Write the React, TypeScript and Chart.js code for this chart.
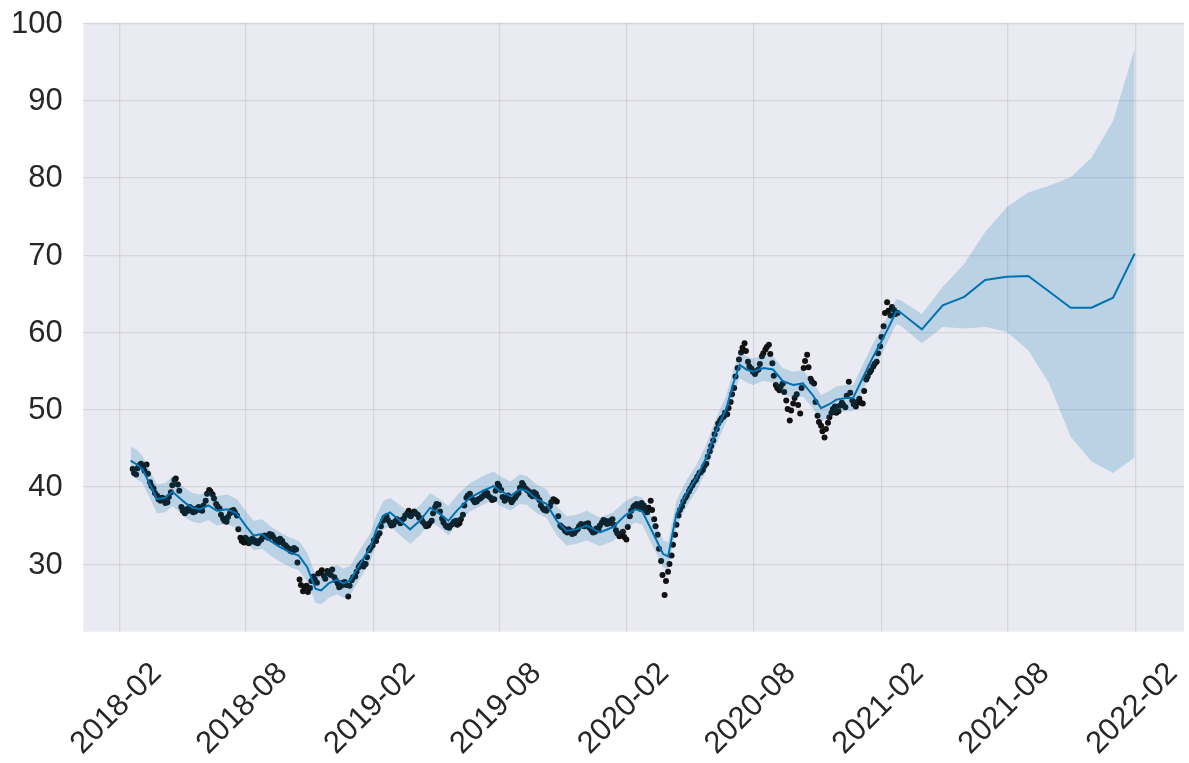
import React, { useEffect, useRef } from "react";
import { Chart, registerables } from "chart.js";

Chart.register(...registerables);

// X tick labels (month starts)
const tickLabels = ["2018-02", "2018-08", "2019-02", "2019-08", "2020-02", "2020-08", "2021-02", "2021-08", "2022-02"];
// Y tick values
const yTicks = [30, 40, 50, 60, 70, 80, 90, 100];

// Observations, series A: one value every 5 days starting at obsStartA
const obsStartA = "2018-02-20";
const obsStepDays = 5;
const observedA = [
  42.3, 41.6, 42.8, 42.6, 42.9, 40.6, 39.8, 38.9, 38.2, 38.5,
  38.0, 39.3, 40.9, 40.3, 37.4, 36.6, 36.9, 37.2, 36.8, 37.4,
  36.9, 38.2, 39.6, 39.0, 37.8, 37.2, 35.9, 35.5, 36.6, 37.0,
  36.3, 33.4, 32.8, 33.2, 32.9, 33.1, 32.7, 33.2, 33.7, 33.4,
  33.8, 33.2, 32.8, 33.0, 32.4, 32.0, 31.6, 31.9, 28.0, 26.5,
  27.2, 26.9, 28.4, 27.6, 28.9, 28.5, 29.1, 28.6, 28.3, 27.5,
  27.2, 27.7, 25.8, 27.9, 28.4, 29.6, 30.2, 30.0, 31.8, 32.4,
  33.0, 34.0, 35.6, 36.2, 35.4, 35.1, 35.8, 35.3, 35.9, 36.6,
  36.2, 36.8, 36.4, 35.9, 35.2, 35.0, 35.6, 37.4, 37.7, 35.9,
  35.0, 34.7, 35.2, 35.6, 35.3, 36.4, 38.6, 39.1, 38.3, 38.1,
  38.5, 38.9, 39.2, 38.6, 38.4, 40.4, 39.6, 38.2, 38.9, 38.0,
  38.6, 39.2, 40.5, 39.8, 39.4, 38.8, 39.1, 38.3, 37.2, 36.9,
  37.5, 38.4, 38.1, 35.0, 34.6, 34.1, 34.3, 34.0, 34.5, 35.2,
  34.9, 35.3, 34.4, 34.2, 34.5, 35.4, 35.6, 35.3, 35.8, 34.4,
  33.6, 34.2, 33.2, 36.2, 37.4, 37.8, 37.2, 37.6, 36.7, 38.2,
  35.8, 33.8, 30.4, 26.0, 29.0, 31.1, 33.8, 36.3, 37.5, 38.6,
  39.4, 40.2, 40.9, 41.8, 42.2, 43.0, 44.6, 46.0, 47.5, 48.6,
  49.1, 49.4, 51.0, 52.8, 55.4, 57.4, 58.6, 56.2, 55.3, 54.6,
  55.2, 56.9, 57.8, 58.4, 56.0, 53.2, 52.5, 53.4, 51.2, 48.6,
  50.8, 52.0, 49.5, 55.4, 57.1, 54.0, 53.4, 49.2, 47.9, 46.4,
  48.3, 49.6, 50.4, 49.8, 50.9, 50.3, 53.6, 51.2, 50.4, 51.4,
  50.8, 53.9, 54.8, 55.6, 56.2, 58.2, 60.8, 63.9, 62.2, 62.9,
  62.5,
];

// Observations, series B: one value every 5 days starting at obsStartB
const obsStartB = "2018-02-22";
const observedB = [
  41.8, 42.4, 43.0, 42.1, 41.7, 40.1, 39.2, 38.4, 38.6, 37.9,
  38.7, 40.2, 41.1, 39.5, 36.9, 37.1, 37.4, 36.7, 37.2, 37.0,
  37.6, 39.1, 39.4, 38.5, 37.5, 36.4, 35.6, 36.1, 36.9, 36.7,
  34.5, 33.0, 33.4, 32.7, 33.3, 32.8, 33.0, 33.5, 33.6, 33.9,
  33.5, 32.9, 33.3, 32.6, 32.2, 31.7, 32.1, 30.2, 27.3, 27.0,
  26.4, 27.8, 28.0, 28.8, 29.2, 28.1, 28.8, 29.3, 27.9, 27.0,
  27.6, 27.3, 27.2, 28.3, 29.0, 29.9, 29.7, 30.9, 32.1, 33.1,
  33.6, 34.9, 36.0, 35.7, 35.0, 35.5, 35.6, 35.7, 36.3, 36.9,
  36.5, 36.6, 36.0, 35.5, 34.9, 35.3, 36.6, 37.8, 36.8, 35.4,
  34.8, 35.0, 35.5, 35.1, 35.8, 37.6, 38.9, 38.6, 38.0, 38.4,
  38.7, 39.3, 38.8, 38.3, 39.5, 40.1, 38.7, 38.6, 38.4, 38.3,
  38.9, 39.9, 40.2, 39.6, 39.0, 39.3, 38.7, 37.6, 37.0, 37.2,
  38.0, 38.3, 36.2, 34.8, 34.3, 34.5, 33.9, 34.3, 34.9, 35.0,
  35.2, 34.7, 34.1, 34.6, 35.0, 35.7, 35.2, 35.6, 35.1, 34.0,
  33.9, 33.5, 34.8, 36.9, 37.6, 37.4, 37.9, 37.0, 37.3, 37.0,
  34.9, 32.0, 28.6, 27.8, 30.0, 32.5, 35.1, 37.0, 38.1, 38.9,
  39.8, 40.6, 41.3, 41.9, 42.7, 43.9, 45.3, 46.8, 48.2, 48.9,
  49.6, 50.2, 52.0, 54.3, 56.5, 58.0, 57.6, 55.6, 54.9, 55.0,
  55.9, 57.3, 58.1, 57.2, 54.4, 52.8, 53.0, 52.3, 50.1, 49.9,
  51.5, 50.6, 52.8, 56.3, 55.5, 53.6, 51.0, 48.4, 47.2, 47.5,
  49.0, 50.1, 49.6, 50.5, 50.6, 51.8, 52.2, 50.7, 51.0, 50.9,
  52.4, 54.3, 55.1, 55.9, 57.3, 59.4, 62.5, 62.8, 63.3, 62.4,
];

// Fitted history: days after 2018-02-01
const histDays = [
  16, 25, 33, 44, 54, 66, 76, 86, 95, 105,
  116, 128, 140, 155, 169, 183, 193, 205, 217, 231,
  246, 258, 270, 282, 290, 301, 313, 322, 332, 346,
  361, 370, 380, 389, 404, 418, 432, 447, 461, 473,
  485, 504, 523, 538, 547, 562, 576, 586, 600, 614,
  629, 643, 657, 672, 691, 710, 727, 742, 752, 768,
  782, 789, 801, 815, 830, 844, 858, 873, 882, 892,
  902, 911, 926, 940, 954, 969, 983, 997, 1009, 1021,
  1031, 1045, 1055, 1069, 1083, 1098, 1108, 1117,
];
const histYhat = [
  43.4, 42.9, 42.3, 40.3, 38.4, 38.6, 39.4, 38.6, 37.9, 37.3,
  37.1, 37.6, 36.9, 37.1, 36.5, 34.8, 33.7, 33.9, 33.0, 32.2,
  31.5, 31.1, 29.6, 26.8, 26.6, 27.5, 28.0, 27.5, 27.9, 30.0,
  32.2, 34.6, 36.3, 36.7, 35.6, 34.5, 35.6, 37.3, 36.5, 35.6,
  36.9, 38.6, 39.5, 40.1, 39.5, 38.8, 39.7, 39.5, 38.4, 37.8,
  35.6, 34.3, 34.5, 35.0, 34.1, 34.8, 36.3, 37.1, 36.8, 33.9,
  31.3, 31.0, 36.5, 39.1, 41.2, 43.8, 47.2, 50.2, 53.2, 55.8,
  55.2, 54.9, 55.4, 55.2, 53.7, 53.2, 53.4, 51.9, 50.2, 50.7,
  51.3, 51.5, 51.5, 54.1, 56.7, 59.2, 61.0, 62.7,
];
const histUpper = [
  45.2, 44.8, 44.0, 42.1, 40.3, 40.5, 41.3, 40.4, 39.8, 39.2,
  39.0, 39.5, 38.8, 39.0, 38.4, 36.7, 35.6, 35.8, 34.9, 34.1,
  33.4, 33.0, 31.5, 28.6, 28.5, 29.4, 29.9, 29.4, 29.8, 31.9,
  34.0, 36.5, 38.2, 38.6, 37.6, 36.5, 37.6, 39.2, 38.4, 37.5,
  38.9, 40.5, 41.4, 42.0, 41.4, 40.7, 41.6, 41.4, 40.3, 39.7,
  37.5, 36.2, 36.4, 36.9, 36.0, 36.7, 38.1, 38.9, 38.6, 35.7,
  33.1, 32.8, 38.2, 40.8, 42.9, 45.5, 48.9, 51.9, 54.9, 57.5,
  56.9, 56.6, 57.1, 56.9, 55.4, 54.9, 55.1, 53.6, 51.9, 52.4,
  53.0, 53.2, 53.2, 55.8, 58.4, 60.9, 62.7, 64.3,
];
const histLower = [
  41.6, 41.0, 40.5, 38.5, 36.6, 36.7, 37.5, 36.8, 36.0, 35.5,
  35.3, 35.7, 35.0, 35.2, 34.6, 32.9, 31.8, 32.0, 31.1, 30.3,
  29.6, 29.2, 27.7, 25.0, 24.8, 25.6, 26.1, 25.6, 26.0, 28.1,
  30.4, 32.8, 34.5, 34.9, 33.7, 32.6, 33.7, 35.5, 34.7, 33.7,
  35.1, 36.8, 37.7, 38.3, 37.6, 36.9, 37.8, 37.7, 36.6, 36.0,
  33.7, 32.4, 32.6, 33.1, 32.3, 33.0, 34.5, 35.4, 35.1, 32.1,
  29.6, 29.2, 34.8, 37.4, 39.5, 42.1, 45.5, 48.5, 51.5, 54.1,
  53.5, 53.2, 53.7, 53.5, 52.0, 51.5, 51.7, 50.2, 48.5, 49.0,
  49.6, 49.8, 49.8, 52.4, 55.0, 57.5, 59.3, 61.1,
];

// Monthly forecast
const futureDates = [
  "2021-02-28", "2021-03-31", "2021-04-30", "2021-05-31", "2021-06-30", "2021-07-31",
  "2021-08-31", "2021-09-30", "2021-10-31", "2021-11-30", "2021-12-31", "2022-01-31",
];
const futureYhat = [62.6, 60.4, 63.5, 64.6, 66.8, 67.2, 67.3, 65.3, 63.2, 63.2, 64.5, 70.2];
const futureUpper = [64.2, 62.4, 65.9, 68.9, 73.0, 76.2, 78.1, 79.0, 80.1, 82.6, 87.4, 96.7];
const futureLower = [60.9, 58.6, 60.7, 60.5, 60.7, 60.1, 57.7, 53.4, 46.5, 43.3, 41.8, 43.8];

const ORIGIN = Date.UTC(2018, 1, 1);
const DAY = 86400000;
function dayOf(s: string): number {
  const parts = s.split("-").map(Number);
  return (Date.UTC(parts[0], parts[1] - 1, parts[2] || 1) - ORIGIN) / DAY;
}

const FONT = "'Liberation Sans', Arial, sans-serif";
const TEXT = "#262626";
const GRID = "rgba(128,128,128,0.2)";

const plotPlugin = {
  id: "plotPlugin",
  beforeDraw(chart: any) {
    const { ctx, chartArea: a } = chart;
    ctx.save();
    ctx.fillStyle = "#EAEAF2";
    ctx.fillRect(a.left, a.top, a.right - a.left, a.bottom - a.top);
    ctx.restore();
  },
  afterDraw(chart: any) {
    const { ctx, chartArea: a } = chart;
    const xs = chart.scales.x;
    const ys = chart.scales.y;
    ctx.save();
    ctx.font = `31px ${FONT}`;
    ctx.fillStyle = TEXT;
    ctx.textBaseline = "middle";
    ctx.textAlign = "right";
    yTicks.forEach((v) => {
      ctx.fillText(String(v), a.left - 20.5, ys.getPixelForValue(v) + 1);
    });
    ctx.textAlign = "center";
    tickLabels.forEach((l) => {
      const px = xs.getPixelForValue(dayOf(l));
      ctx.save();
      ctx.translate(px - 3, a.bottom + 77);
      ctx.rotate(-Math.PI / 4);
      ctx.fillText(l, 0, 0);
      ctx.restore();
    });
    ctx.restore();
  },
};

export default function App() {
  const ref = useRef<HTMLCanvasElement>(null);

  useEffect(() => {
    if (!ref.current) return;
    const a0 = dayOf(obsStartA);
    const b0 = dayOf(obsStartB);
    const obsPts = observedA
      .map((v, i) => ({ x: a0 + i * obsStepDays, y: v }))
      .concat(observedB.map((v, i) => ({ x: b0 + i * obsStepDays, y: v })));
    const allDays = histDays.concat(futureDates.map(dayOf));
    const yhat = histYhat.concat(futureYhat);
    const up = histUpper.concat(futureUpper);
    const lo = histLower.concat(futureLower);
    const linePts = allDays.map((d, i) => ({ x: d, y: yhat[i] }));
    const upPts = allDays.map((d, i) => ({ x: d, y: up[i] }));
    const loPts = allDays.map((d, i) => ({ x: d, y: lo[i] }));

    const chart = new Chart(ref.current, {
      type: "line",
      data: {
        datasets: [
          {
            label: "observed",
            data: obsPts,
            showLine: false,
            backgroundColor: "#111111",
            borderColor: "#111111",
            pointRadius: 3,
            pointBorderWidth: 0,
            pointHoverRadius: 0,
            order: 3,
          } as any,
          {
            label: "yhat",
            data: linePts,
            borderColor: "#0072B2",
            borderWidth: 2,
            pointRadius: 0,
            fill: false,
            tension: 0,
            order: 2,
          },
          {
            label: "lower",
            data: loPts,
            borderColor: "rgba(0,0,0,0)",
            borderWidth: 0,
            pointRadius: 0,
            fill: false,
            tension: 0,
            order: 1,
          },
          {
            label: "upper",
            data: upPts,
            borderColor: "rgba(0,0,0,0)",
            borderWidth: 0,
            pointRadius: 0,
            fill: 2,
            backgroundColor: "rgba(0,114,178,0.2)",
            tension: 0,
            order: 0,
          } as any,
        ],
      },
      options: {
        animation: false,
        responsive: true,
        maintainAspectRatio: false,
        layout: { padding: { top: 22.7, right: 5, left: 0, bottom: 0 } },
        plugins: { legend: { display: false }, tooltip: { enabled: false } },
        events: [],
        scales: {
          x: {
            type: "linear",
            min: -52,
            max: 1531,
            afterBuildTicks: (s: any) => {
              s.ticks = tickLabels.map((l) => ({ value: dayOf(l) }));
            },
            afterFit: (s: any) => {
              s.height = 131.3;
            },
            ticks: { display: false },
            grid: { color: GRID, lineWidth: 1.2, drawTicks: false },
            border: { display: false },
          },
          y: {
            type: "linear",
            min: 21.25,
            max: 100.1,
            afterBuildTicks: (s: any) => {
              s.ticks = yTicks.map((v) => ({ value: v }));
            },
            afterFit: (s: any) => {
              s.width = 83.3;
            },
            ticks: { display: false },
            grid: { color: GRID, lineWidth: 1.2, drawTicks: false },
            border: { display: false },
          },
        },
      } as any,
      plugins: [plotPlugin],
    });
    return () => chart.destroy();
  }, []);

  return (
    <div style={{ position: "absolute", left: 0, top: 0, width: 1189, height: 763, background: "#ffffff" }}>
      <canvas ref={ref} />
    </div>
  );
}
